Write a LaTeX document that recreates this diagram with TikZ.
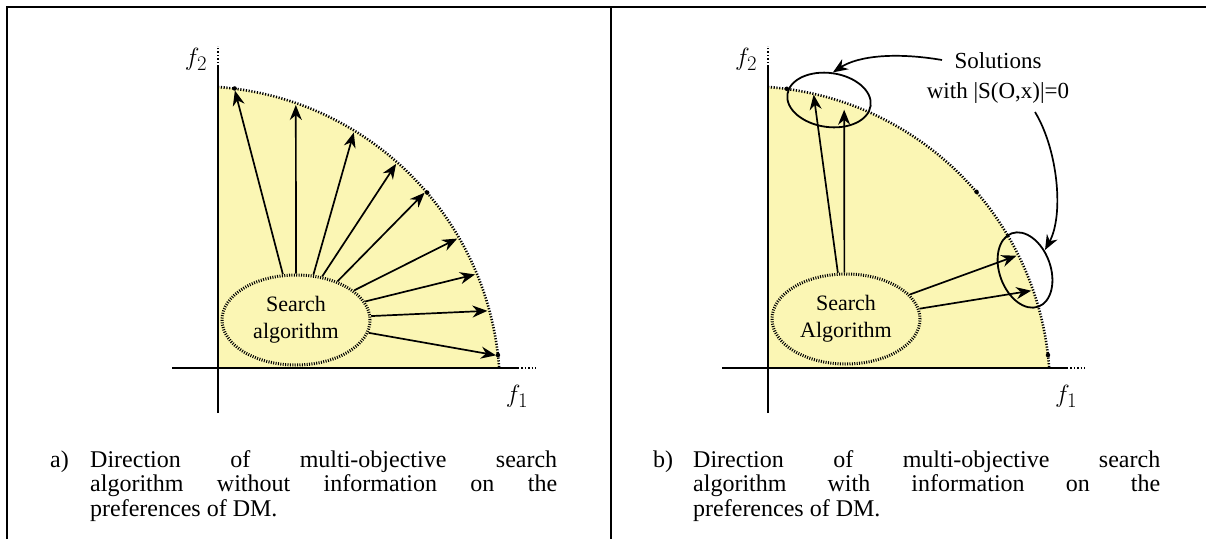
\documentclass[tikz,border=0pt]{standalone}
\usepackage{fontspec}
\setmainfont{Liberation Serif}
\usetikzlibrary{shapes.geometric,arrows.meta,calc}
\definecolor{pareto}{RGB}{251,246,180}
\begin{document}
\begin{tikzpicture}[x=1pt,y=-1pt,
  frame/.style={line width=2pt},
  axis/.style={line width=1.7pt},
  axisdots/.style={line width=2.4pt, dash pattern=on 1.4pt off 2pt},
  front/.style={line width=2.6pt, dash pattern=on 1.2pt off 1.6pt},
  algo/.style={ellipse, draw, line width=3pt, dash pattern=on 1pt off 1.4pt, fill=pareto,
    minimum width=148pt, minimum height=90pt, inner sep=0pt, align=center,
    font=\fontsize{22}{27}\selectfont},
  dirarrow/.style={line width=1.7pt, -{Stealth[length=15pt,width=12pt]}},
  pointer/.style={line width=1.7pt, -{Stealth[length=15pt,width=12pt]}},
  sel/.style={ellipse, draw, line width=1.8pt, inner sep=0pt},
  axlabel/.style={font=\fontsize{31}{34}\selectfont, inner sep=0pt},
  note/.style={font=\fontsize{23}{30}\selectfont, align=center, inner sep=0pt},
  captext/.style={font=\fontsize{24}{24.5}\selectfont, anchor=north west, inner sep=0pt,
    text width=467pt, align=justify},
  caplabel/.style={font=\fontsize{24}{24.5}\selectfont, anchor=north west, inner sep=0pt},
  dot/.style={circle, fill, inner sep=0pt, minimum size=4.5pt}
]
\useasboundingbox (0,0) rectangle (1206,539);
% table frame
\draw[frame] (7,539) -- (7,7) -- (1206,7);
\draw[frame] (611,7) -- (611,539);

% ================= panel a =================
\coordinate (Oa) at (218,368);
\coordinate (Ca) at (196,390);
\fill[pareto] (Oa) -- (218,87) arc[start angle=-85.85, end angle=-4.15, radius=304] -- cycle;
\draw[axis] (172,368) -- (518,368);
\draw[axisdots] (518,368) -- (538,368);
\draw[axis] (218,413) -- (218,65);
\draw[axisdots] (218,63) -- (218,46);
\draw[front] (218,87) arc[start angle=-85.85, end angle=-4.15, radius=304];
\node[axlabel] (f2a) at (196,59) {$f_2$};
\node[axlabel] (f1a) at (517,396) {$f_1$};
\node[algo] (sa) at (296,320) {Search\\algorithm};
\foreach \i/\s/\t in {1/106/82.6, 2/90/70.7, 3/69/58.5, 4/59/48.5, 5/43/40.8,
                       6/27/30.1, 7/15/22.5, 8/3/15.2, 9/-10/6.6} {
  \coordinate (ta\i) at ($(Ca)+(-\t:302)$);
  \draw[dirarrow] (sa.\s) -- (ta\i);
}
\foreach \i/\t in {1/82.7, 2/40.5, 3/6.6} {
  \node[dot] (da\i) at ($(Ca)+(-\t:304)$) {};
}
\node[caplabel] (laba) at (50,450) {\strut a)};
\node[captext] (capa) at (90,450) {\hyphenpenalty=10000\tolerance=10000
  \strut Direction of multi-objective search\linebreak
  algorithm without information on the\linebreak preferences of DM.};

% ================= panel b =================
\coordinate (Ob) at (768,368);
\coordinate (Cb) at (746,390);
\fill[pareto] (Ob) -- (768,87) arc[start angle=-85.85, end angle=-4.15, radius=304] -- cycle;
\draw[axis] (722,368) -- (1067,368);
\draw[axisdots] (1067,368) -- (1087,368);
\draw[axis] (768,413) -- (768,65);
\draw[axisdots] (768,63) -- (768,46);
\draw[front] (768,87) arc[start angle=-85.85, end angle=-4.15, radius=304];
\node[axlabel] (f2b) at (746,59) {$f_2$};
\node[axlabel] (f1b) at (1066,396) {$f_1$};
\node[algo] (sb) at (846,319) {Search\\Algorithm};
\foreach \i/\s/\t/\r in {1/100/77.1/303, 2/92/70.7/297, 3/21/26.4/302, 4/8/19.2/302} {
  \coordinate (tb\i) at ($(Cb)+(-\t:\r)$);
  \draw[dirarrow] (sb.\s) -- (tb\i);
}
\foreach \i/\t in {1/82.3, 2/40.7, 3/6.6} {
  \node[dot] (db\i) at ($(Cb)+(-\t:304)$) {};
}
\node[sel, minimum width=84pt, minimum height=54pt, rotate=-8] (sel1) at (829,100) {};
\node[sel, minimum width=78pt, minimum height=51pt, rotate=-70] (sel2) at (1025,270) {};
\node[note] (sol) at (998,78) {Solutions\\with |S(O,x)|=0};
\coordinate (solA) at (942,60);
\coordinate (solB) at (1035,112);
\coordinate (sel2top) at (1045,250);
\draw[pointer] (solA) .. controls (895,52) and (858,56) .. (sel1.north);
\draw[pointer] (solB) .. controls (1058,150) and (1064,215) .. (sel2top);
\node[caplabel] (labb) at (653,450) {\strut b)};
\node[captext] (capb) at (693,450) {\hyphenpenalty=10000\tolerance=10000
  \strut Direction of multi-objective search\linebreak
  algorithm with information on the\linebreak preferences of DM.};
\end{tikzpicture}
\end{document}
